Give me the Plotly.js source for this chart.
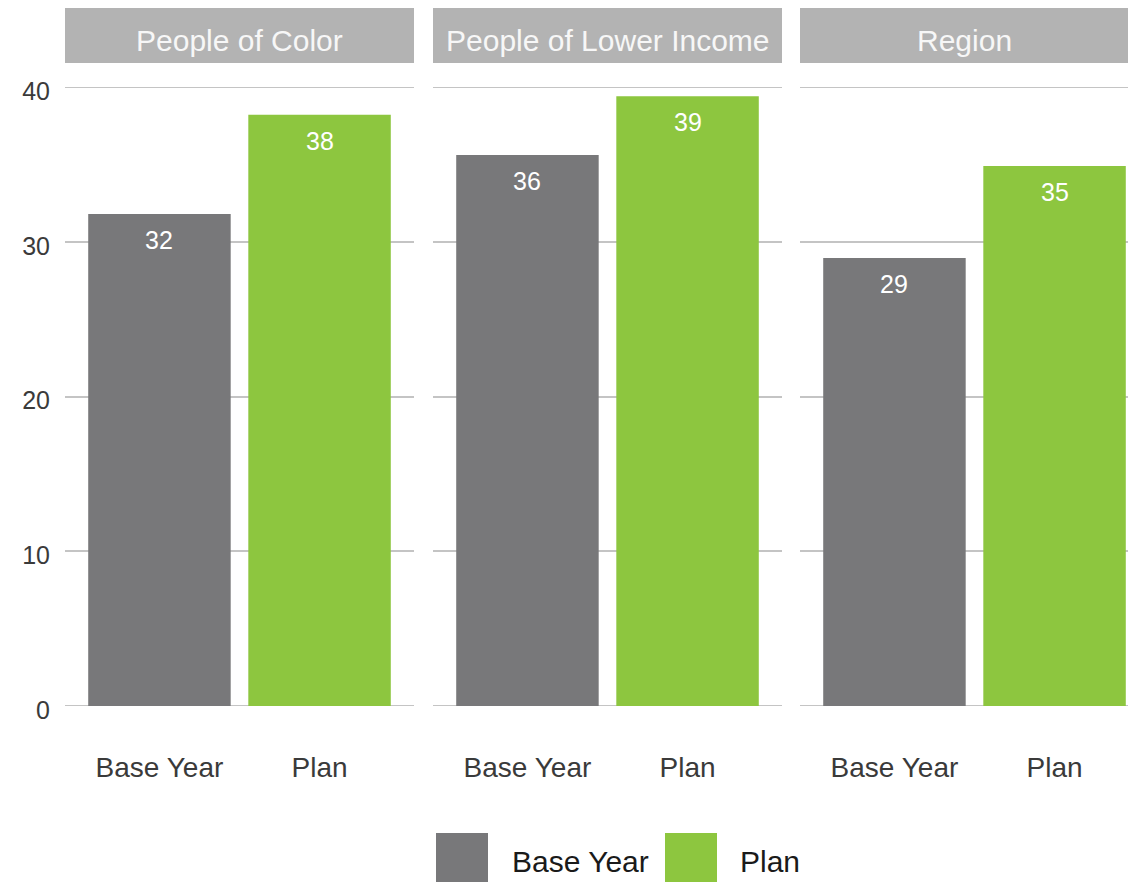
<!DOCTYPE html>
<html>
<head>
<meta charset="utf-8">
<script src="https://cdn.plot.ly/plotly-3.0.1.min.js"></script>
<style>html,body{margin:0;padding:0;background:#fff;}#chart{width:1128px;height:882px;}</style>
</head>
<body>
<div id="chart"></div>
<script>
// ---- data ----
const panels = ["People of Color", "People of Lower Income", "Region"];
const categories = ["Base Year", "Plan"];
const baseYear = [31.8, 35.6, 28.95];
const plan = [38.2, 39.4, 34.9];
const yTicks = [0, 10, 20, 30, 40];

// ---- styles ----
const colors = {"Base Year": "#78787a", "Plan": "#8dc63f"};
const FONT = "Liberation Sans, Arial, sans-serif";
const GRID = "#c4c4c4";
const W = 1128, H = 882;
const L = 65, R = 1128, T = 87, B = 706;
const pw = R - L, ph = B - T;
const px = v => (v - L) / pw;
const py = v => (B - v) / ph;
const domains = [[px(65), px(414)], [px(433), px(782)], [px(800), px(1128)]];
const unit = (414 - 65) / 2.18;
const ranges = [[-0.59, 1.59], [-0.59, 1.59], [-0.59, -0.59 + (1128 - 800) / unit]];

const seriesVals = {"Base Year": baseYear, "Plan": plan};
const traces = [];
const labelAnnots = [];
panels.forEach((p, i) => {
  const ax = i === 0 ? "x" : "x" + (i + 1);
  categories.forEach(c => {
    const v = seriesVals[c][i];
    traces.push({
      type: "bar",
      name: c,
      x: [c],
      y: [v],
      xaxis: ax,
      yaxis: "y",
      width: 0.89,
      marker: {color: colors[c]},
      showlegend: false,
      hoverinfo: "x+y"
    });
    labelAnnots.push({
      xref: ax, yref: "y", x: c, y: v,
      text: Math.round(v).toString(),
      showarrow: false, xanchor: "center", yanchor: "middle", yshift: -26,
      font: {family: FONT, size: 25, color: "#ffffff"}
    });
  });
});

const layout = {
  width: W, height: H,
  margin: {l: L, r: W - R, t: T, b: H - B, pad: 0},
  paper_bgcolor: "#ffffff",
  plot_bgcolor: "#ffffff",
  barmode: "overlay",
  showlegend: false,
  font: {family: FONT, color: "#3a3a3a"},
  yaxis: {
    domain: [0, 1],
    range: [0, 40],
    tickvals: yTicks,
    ticktext: yTicks.map(String),
    showgrid: true, gridcolor: GRID, gridwidth: 2,
    zeroline: false, showline: false, ticks: "",
    tickfont: {family: FONT, size: 25, color: "#3a3a3a"},
    ticklabelstandoff: 14,
    ticklabelshift: 4
  },
  shapes: [],
  annotations: labelAnnots
};

panels.forEach((p, i) => {
  const key = i === 0 ? "xaxis" : "xaxis" + (i + 1);
  const ref = i === 0 ? "x" : "x" + (i + 1);
  layout[key] = {
    domain: domains[i],
    anchor: "y",
    type: "category",
    categoryorder: "array",
    categoryarray: categories,
    range: ranges[i],
    showgrid: false, zeroline: false, showline: false, ticks: "",
    tickfont: {family: FONT, size: 28, color: "#3a3a3a"},
    ticklabelstandoff: 42
  };
  // gridlines at the range ends (Plotly omits grid lines on the edges)
  [yTicks[0], yTicks[yTicks.length - 1]].forEach(yv => {
    layout.shapes.push({
      type: "line", xref: ref + " domain", yref: "y",
      x0: 0, x1: 1, y0: yv, y1: yv,
      line: {color: GRID, width: 2}, layer: "below"
    });
  });
  layout.shapes.push({
    type: "rect", xref: ref + " domain", yref: "paper",
    x0: 0, x1: 1, y0: py(63), y1: py(8),
    fillcolor: "#b3b3b3", line: {width: 0}, layer: "below"
  });
  layout.annotations.push({
    xref: ref + " domain", yref: "paper", x: 0.5, y: py(41),
    text: p, showarrow: false, xanchor: "center", yanchor: "middle",
    font: {family: FONT, size: 30, color: "#f7f7f7"}
  });
});

// legend (large squares as in reference)
const legendItems = [
  {name: categories[0], sq: [436, 488], tx: 510},
  {name: categories[1], sq: [665, 717], tx: 738}
];
legendItems.forEach(it => {
  layout.shapes.push({
    type: "rect", xref: "paper", yref: "paper",
    x0: px(it.sq[0]), x1: px(it.sq[1]), y0: py(890), y1: py(833),
    fillcolor: colors[it.name], line: {width: 0}
  });
  layout.annotations.push({
    xref: "paper", yref: "paper", x: px(it.tx), y: py(861),
    text: it.name, showarrow: false, xanchor: "left", yanchor: "middle",
    font: {family: FONT, size: 30, color: "#1a1a1a"}
  });
});

Plotly.newPlot("chart", traces, layout, {displayModeBar: false, staticPlot: true});
</script>
</body>
</html>
